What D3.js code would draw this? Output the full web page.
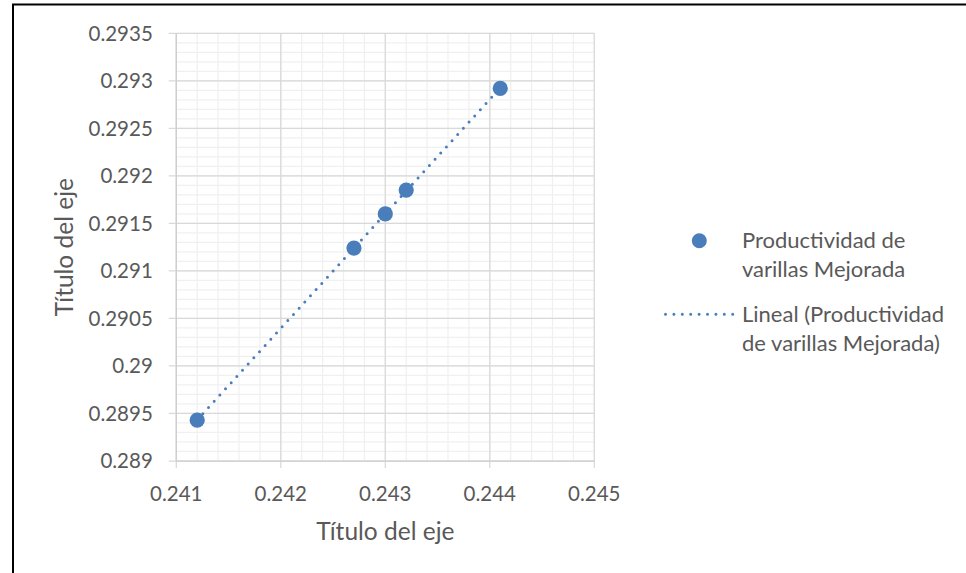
<!DOCTYPE html>
<html><head><meta charset="utf-8">
<script src="https://cdn.jsdelivr.net/npm/d3@7"></script>
<style>body{margin:0;background:#fff;} text{font-family:Lato,"Open Sans",sans-serif;fill:#595959;}</style>
</head><body>
<svg id="chart" width="966" height="573"></svg>
<script>
const xValues = [0.2412, 0.2427, 0.2430, 0.2432, 0.2441];
const yValues = [0.28943, 0.29124, 0.29160, 0.29185, 0.29292];
const xTicks = [0.241, 0.242, 0.243, 0.244, 0.245];
const yTicks = [0.289, 0.2895, 0.29, 0.2905, 0.291, 0.2915, 0.292, 0.2925, 0.293, 0.2935];
const xTickLabels = ["0.241", "0.242", "0.243", "0.244", "0.245"];
const yTickLabels = ["0.289", "0.2895", "0.29", "0.2905", "0.291", "0.2915", "0.292", "0.2925", "0.293", "0.2935"];
const seriesName = ["Productividad de", "varillas Mejorada"];
const trendName = ["Lineal (Productividad", "de varillas Mejorada)"];
const axisTitle = "Título del eje";

const svg = d3.select("#chart");
const W = 966, H = 573;
const L = 176.3, R = 594.3, T = 33.3, B = 461;
const x = d3.scaleLinear().domain([0.241, 0.245]).range([L, R]);
const y = d3.scaleLinear().domain([0.289, 0.2935]).range([B, T]);
const blue = "#4a7ebb";

// frame
svg.append("rect").attr("x", 13).attr("y", 4.5).attr("width", W + 10).attr("height", H + 10)
  .attr("fill", "none").attr("stroke", "#000").attr("stroke-width", 2);

// minor grid
const xMinor = d3.range(0, 21).map(i => 0.241 + i * 0.0002);
const yMinor = d3.range(0, 46).map(i => 0.289 + i * 0.0001);
const g = svg.append("g");
g.selectAll(".xm").data(xMinor).enter().append("line")
  .attr("x1", d => x(d)).attr("x2", d => x(d)).attr("y1", T).attr("y2", B)
  .attr("stroke", "#f0f0f0").attr("stroke-width", 1.25);
g.selectAll(".ym").data(yMinor).enter().append("line")
  .attr("y1", d => y(d)).attr("y2", d => y(d)).attr("x1", L).attr("x2", R)
  .attr("stroke", "#f0f0f0").attr("stroke-width", 1.25);
// major grid
g.selectAll(".xM").data(xTicks).enter().append("line")
  .attr("x1", d => x(d)).attr("x2", d => x(d)).attr("y1", T).attr("y2", B + 7)
  .attr("stroke", "#d9d9d9").attr("stroke-width", 1.25);
g.selectAll(".yM").data(yTicks).enter().append("line")
  .attr("y1", d => y(d)).attr("y2", d => y(d)).attr("x1", L - 7.5).attr("x2", R)
  .attr("stroke", "#d9d9d9").attr("stroke-width", 1.25);
// axis lines
g.append("line").attr("x1", L).attr("x2", L).attr("y1", T).attr("y2", B).attr("stroke", "#cfcfcf").attr("stroke-width", 1.25);
g.append("line").attr("x1", L).attr("x2", R).attr("y1", B).attr("y2", B).attr("stroke", "#cfcfcf").attr("stroke-width", 1.25);

// tick labels
svg.selectAll(".yl").data(yTicks).enter().append("text")
  .attr("x", L - 23.5).attr("y", d => y(d) + 7.2).attr("text-anchor", "end")
  .attr("font-size", 20.5).text((d, i) => yTickLabels[i]);
svg.selectAll(".xl").data(xTicks).enter().append("text")
  .attr("x", d => x(d)).attr("y", B + 39.5).attr("text-anchor", "middle")
  .attr("font-size", 20.5).text((d, i) => xTickLabels[i]);

// axis titles
svg.append("text").attr("x", (L + R) / 2).attr("y", 540).attr("text-anchor", "middle")
  .attr("font-size", 24.5).text(axisTitle);
svg.append("text").attr("transform", `translate(72.5,${(T + B) / 2}) rotate(-90)`)
  .attr("text-anchor", "middle").attr("font-size", 24.5).text(axisTitle);

// linear trend (least squares from data)
const mx = d3.mean(xValues), my = d3.mean(yValues);
const slope = d3.sum(xValues.map((v, i) => (v - mx) * (yValues[i] - my))) / d3.sum(xValues.map(v => (v - mx) ** 2));
const icpt = my - slope * mx;
const xr = d3.extent(xValues);
svg.append("path")
  .attr("d", d3.line().x(d => x(d)).y(d => y(icpt + slope * d))(xr))
  .attr("stroke", blue).attr("stroke-width", 3).attr("fill", "none")
  .attr("stroke-linecap", "round").attr("stroke-dasharray", "0 8.4");

// points
svg.selectAll(".pt").data(xValues).enter().append("circle")
  .attr("cx", d => x(d)).attr("cy", (d, i) => y(yValues[i])).attr("r", 7.6)
  .attr("fill", blue);

// legend
svg.append("circle").attr("cx", 699.3).attr("cy", 240.7).attr("r", 7.5).attr("fill", blue);
seriesName.forEach((t, i) => svg.append("text").attr("x", 742).attr("y", 247.5 + i * 29).attr("font-size", 22).text(t));
svg.append("line").attr("x1", 665.5).attr("x2", 733).attr("y1", 314.3).attr("y2", 314.3)
  .attr("stroke", blue).attr("stroke-width", 3).attr("stroke-linecap", "round").attr("stroke-dasharray", "0 8.4");
trendName.forEach((t, i) => svg.append("text").attr("x", 742).attr("y", 322 + i * 29).attr("font-size", 22).text(t));
</script>
</body></html>
